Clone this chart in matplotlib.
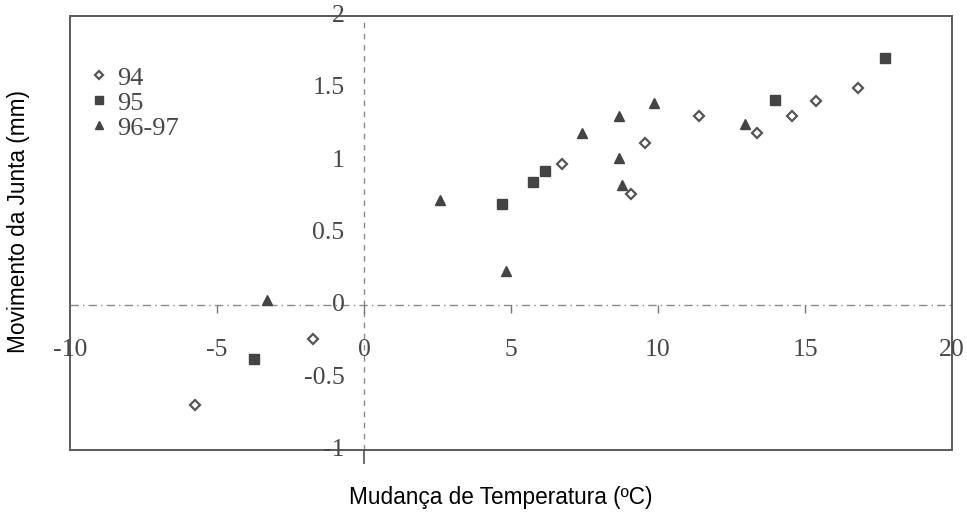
import matplotlib
matplotlib.use('Agg')
import matplotlib.pyplot as plt
from matplotlib.transforms import offset_copy

# dados
x_94 = [-5.75, -1.73, 6.73, 9.08, 9.56, 11.39, 13.37, 14.56, 15.37, 16.80]
y_94 = [-0.69, -0.235, 0.98, 0.77, 1.12, 1.31, 1.19, 1.31, 1.41, 1.50]

x_95 = [-3.74, 4.69, 5.75, 6.16, 13.98, 17.72]
y_95 = [-0.37, 0.70, 0.85, 0.93, 1.42, 1.71]

x_9697 = [-3.30, 2.59, 4.83, 7.41, 8.67, 8.67, 8.78, 9.86, 12.96]
y_9697 = [0.04, 0.73, 0.24, 1.19, 1.31, 1.02, 0.83, 1.40, 1.25]

xticks = [-10, -5, 0, 5, 10, 15, 20]
xtick_labels = ['-10', '-5', '0', '5', '10', '15', '20']
yticks = [-1, -0.5, 0, 0.5, 1, 1.5, 2]
ytick_labels = ['-1', '-0.5', '0', '0.5', '1', '1.5', '2']

cinza = '#474747'
serif = ['Liberation Serif', 'DejaVu Serif']
sans = ['Liberation Sans', 'DejaVu Sans']

fig = plt.figure(figsize=(9.67, 5.12), dpi=100)
ax = fig.add_axes([0.0724, 0.1211, 0.9121, 0.8477])
ax.set_xlim(-10, 20)
ax.set_ylim(-1, 2)

for s in ax.spines.values():
    s.set_color('#5a5a5a')
    s.set_linewidth(1.4)
ax.set_xticks([])
ax.set_yticks([])

# eixos em zero
ax.axhline(0, color='#8a8a8a', lw=1, ls=(0, (6, 3, 1, 3)), zorder=1)
ax.axvline(0, color='#8a8a8a', lw=1, ls=(0, (4, 4)), zorder=1)
ax.plot(xticks[1:-1], [0] * (len(xticks) - 2), ls='none', marker=3,
        ms=6, mew=1, color='#777777', zorder=1)
ax.plot([0], [-1], ls='none', marker=3, ms=10, mew=1.2, color='#555555',
        clip_on=False, zorder=1)

# rótulos dos ticks
tx = offset_copy(ax.transData, fig=fig, x=0, y=-32, units='points')
for v, lab in zip(xticks, xtick_labels):
    ax.text(v, 0, lab, transform=tx, ha='center', va='center',
            family=serif, fontsize=18.5, color=cinza)
ty = offset_copy(ax.transData, fig=fig, x=-14, y=0, units='points')
for v, lab in zip(yticks, ytick_labels):
    ax.text(0, v, lab, transform=ty, ha='right', va='center',
            family=serif, fontsize=18.5, color=cinza)

ax.plot(x_94, y_94, ls='none', marker='D', ms=5.5, mfc='white',
        mec='#555555', mew=1.6, label='94', zorder=3)
ax.plot(x_95, y_95, ls='none', marker='s', ms=7, color='#444444',
        label='95', zorder=3)
ax.plot(x_9697, y_9697, ls='none', marker='^', ms=7.5, color='#444444',
        label='96-97', zorder=3)

leg = ax.legend(loc='upper left', bbox_to_anchor=(0.007, 0.915), frameon=False,
                prop={'family': serif, 'size': 19}, handlelength=0.7,
                handletextpad=0.35, labelspacing=0.06, borderpad=0,
                markerscale=0.8)
for t in leg.get_texts():
    t.set_color(cinza)

fig.text(0.019, 0.568, 'Movimento da Junta (mm)', rotation=90, ha='center',
         va='center', family=sans, fontsize=16.3)
fig.text(0.518, 0.029, 'Mudança de Temperatura (ºC)', ha='center', va='center',
         family=sans, fontsize=16.3)

fig.savefig('out.png', dpi=100)
